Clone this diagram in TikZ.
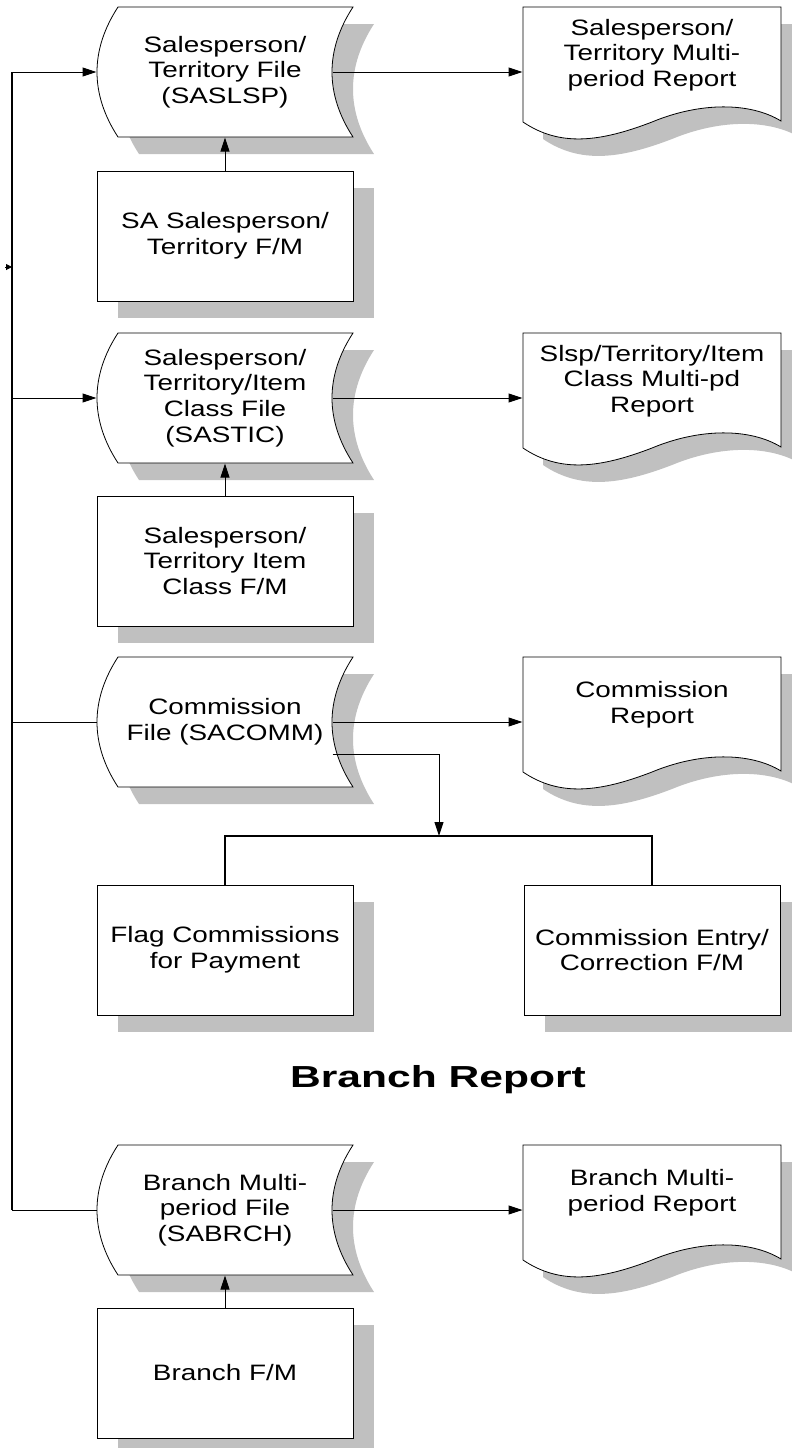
\documentclass[tikz,border=0pt]{standalone}
\usepackage{fontspec}
\setmainfont{Liberation Sans}[FakeStretch=1.25]
\newfontfamily\titlefont{Liberation Sans}[FakeStretch=1.4]
\usetikzlibrary{arrows.meta,shadows,backgrounds}
\definecolor{shadowgray}{RGB}{192,192,192}

% stored file, #2 = top edge
\newcommand{\fileshape}[2][]{\path[#1] (118,#2) .. controls (90,{#2+43}) and (90,{#2+87}) .. (118,{#2+130}) -- (353,{#2+130}) .. controls (325,{#2+87}) and (325,{#2+43}) .. (353,#2) -- cycle;}
% printed report, #2 = top edge
\newcommand{\docshape}[2][]{\path[#1] (523,#2) -- (781,#2) -- (781,{#2+114}) .. controls (750,{#2+95}) and (700,{#2+95}) .. (652,{#2+115}) .. controls (600,{#2+135}) and (560,{#2+140}) .. (523,{#2+115}) -- cycle;}

\begin{document}
\begin{tikzpicture}[x=0.5pt,y=-0.5pt,line width=0.5pt,
		arr/.style={-{Triangle[length=7pt,width=4.5pt]}},
		bus/.style={line width=1pt},
		outline/.style={draw,fill=white},
		dropgray/.style={fill=shadowgray},
		txt/.style={align=center,inner sep=0pt,font=\fontsize{11.15}{12.85}\selectfont},
		filenode/.style={txt,minimum width=128pt,minimum height=65pt},
		docnode/.style={txt,minimum width=129pt,minimum height=48pt},
		fmbox/.style={txt,draw,fill=white,minimum width=128pt,minimum height=65pt,
			drop shadow={shadow xshift=10.5pt,shadow yshift=-8.5pt,fill=shadowgray,opacity=1}}]
		\useasboundingbox (0,0) rectangle (792,1448);
		\begin{scope}[on background layer]
		\fileshape[dropgray,shift={(21,17)}]{7}
		\fileshape[dropgray,shift={(21,17)}]{333}
		\fileshape[dropgray,shift={(21,17)}]{657}
		\fileshape[dropgray,shift={(21,17)}]{1145}
		\docshape[dropgray,shift={(20,17)}]{7}
		\docshape[dropgray,shift={(20,17)}]{333}
		\docshape[dropgray,shift={(20,17)}]{657}
		\docshape[dropgray,shift={(20,17)}]{1145}
		\fileshape[outline]{7}
		\fileshape[outline]{333}
		\fileshape[outline]{657}
		\fileshape[outline]{1145}
		\docshape[outline]{7}
		\docshape[outline]{333}
		\docshape[outline]{657}
		\docshape[outline]{1145}
		\end{scope}

		\node[filenode] (saslsp) at (225,72) {Salesperson/\\Territory File\\(SASLSP)};
		\node[docnode] (slsprep) at (652,55) {Salesperson/\\Territory Multi-\\period Report};
		\node[fmbox] (slspfm) at (225,236) {SA Salesperson/\\Territory F/M};

		\node[filenode] (sastic) at (225,398) {Salesperson/\\Territory/Item\\Class File\\(SASTIC)};
		\node[docnode] (sticrep) at (652,381) {Slsp/Territory/Item\\Class Multi-pd\\Report};
		\node[fmbox] (sticfm) at (225,561) {Salesperson/\\Territory Item\\Class F/M};

		\node[filenode] (sacomm) at (225,722) {Commission\\File (SACOMM)};
		\node[docnode] (commrep) at (652,705) {Commission\\Report};
		\node[fmbox] (flagpay) at (225,950) {Flag Commissions\\for Payment};
		\node[fmbox] (commfm) at (652,950) {Commission Entry/\\Correction F/M};

		\node[anchor=base,font=\titlefont\bfseries\fontsize{15.2}{18}\selectfont] (branchtitle) at (438,1087) {Branch Report};

		\node[filenode] (sabrch) at (225,1210) {Branch Multi-\\period File\\(SABRCH)};
		\node[docnode] (brchrep) at (652,1193) {Branch Multi-\\period Report};
		\node[fmbox] (brchfm) at (225,1373) {Branch F/M};

		% feed line on the left
		\coordinate (b1) at (12,72);
		\coordinate (b2) at (12,398);
		\coordinate (b3) at (12,722);
		\coordinate (b4) at (12,1210);
		\coordinate (stray) at (5,267);
		\draw[bus] (b1) -- (b4);
		\draw[arr] (b1) -- (saslsp.west);
		\draw[arr] (b2) -- (sastic.west);
		\draw (b3) -- (sacomm.west);
		\draw (b4) -- (sabrch.west);
		\draw[-{Triangle[length=3pt,width=3pt]}] (stray) -- (stray -| b1);

		% files to reports
		\draw[arr] ([xshift=-10.5pt]saslsp.east) -- (saslsp.east -| slsprep.west);
		\draw[arr] ([xshift=-10.5pt]sastic.east) -- (sastic.east -| sticrep.west);
		\draw[arr] ([xshift=-10.5pt]sacomm.east) -- (sacomm.east -| commrep.west);
		\draw[arr] ([xshift=-10.5pt]sabrch.east) -- (sabrch.east -| brchrep.west);

		% maintenance into files
		\draw[arr] (slspfm) -- (saslsp);
		\draw[arr] (sticfm) -- (sastic);
		\draw[arr] (brchfm) -- (sabrch);

		% commission split
		\coordinate (split) at (439,836);
		\draw[arr] ([xshift=-10.5pt,yshift=-16pt]sacomm.east) -| (split);
		\draw[line width=0.75pt] (flagpay.north) |- (split) -| (commfm.north);
		\end{tikzpicture}
\end{document}
